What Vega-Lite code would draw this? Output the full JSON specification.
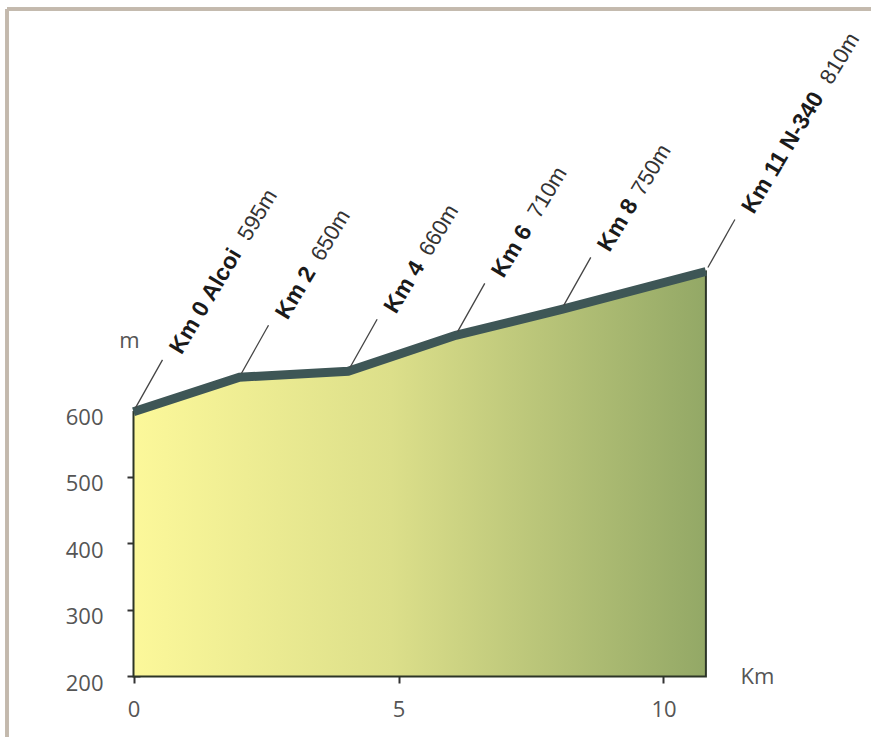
{
  "$schema": "https://vega.github.io/schema/vega-lite/v6.json",
  "width": 864,
  "height": 728,
  "autosize": {"type": "none"},
  "padding": {"left": 7, "top": 9, "right": 0, "bottom": 0},
  "background": "white",
  "config": {"view": {"stroke": null}},
  "data": {
    "values": [
      {"km": 0, "elev": 598, "name": "Km 0 Alcoi", "alt": "595m"},
      {"km": 2, "elev": 650, "name": "Km 2", "alt": "650m"},
      {"km": 4.05, "elev": 659, "name": "Km 4", "alt": "660m"},
      {"km": 6.08, "elev": 713, "name": "Km 6", "alt": "710m"},
      {"km": 8.08, "elev": 752, "name": "Km 8", "alt": "750m"},
      {"km": 10.8, "elev": 809, "name": "Km 11 N-340", "alt": "810m"}
    ]
  },
  "encoding": {
    "x": {
      "field": "km",
      "type": "quantitative",
      "scale": {"domain": [-2.3868, 13.9151], "nice": false, "zero": false},
      "axis": {
        "values": [0, 5, 10],
        "domain": false,
        "grid": false,
        "offset": -68,
        "tickSize": 14,
        "tickColor": "#333333",
        "tickWidth": 2,
        "labelPadding": 16,
        "labelFont": "Open Sans",
        "labelFontSize": 22,
        "labelColor": "#555555",
        "labelFlush": false,
        "labelOverlap": false,
        "title": "Km",
        "titleX": 750,
        "titleY": 7,
        "titleAngle": 0,
        "titleAlign": "center",
        "titleBaseline": "middle",
        "titleFont": "Open Sans",
        "titleFontSize": 22,
        "titleFontWeight": "normal",
        "titleColor": "#555555"
      }
    },
    "y": {
      "field": "elev",
      "type": "quantitative",
      "scale": {"domain": [109.02, 1203.76], "nice": false, "zero": false},
      "axis": {
        "values": [200, 300, 400, 500, 600],
        "domain": false,
        "grid": false,
        "offset": -133,
        "tickSize": 13,
        "tickColor": "#333333",
        "tickWidth": 2,
        "tickOpacity": {"condition": {"test": "datum.value == 600", "value": 0}, "value": 1},
        "labelPadding": 24,
        "labelOffset": 7,
        "labelFont": "Open Sans",
        "labelFontSize": 22,
        "labelColor": "#555555",
        "labelFlush": false,
        "labelOverlap": false,
        "title": "m",
        "titleX": -11,
        "titleY": 331,
        "titleAngle": 0,
        "titleAlign": "center",
        "titleBaseline": "middle",
        "titleFont": "Open Sans",
        "titleFontSize": 22,
        "titleFontWeight": "normal",
        "titleColor": "#555555"
      }
    }
  },
  "layer": [
    {
      "mark": {"type": "rule", "stroke": "#c4b9ad", "strokeWidth": 3},
      "encoding": {"x": {"datum": -2.3868}, "y": null}
    },
    {
      "mark": {"type": "rule", "stroke": "#c4b9ad", "strokeWidth": 3},
      "encoding": {"y": {"datum": 1203.76}, "x": null}
    },
    {
      "mark": {
        "type": "area",
        "fill": {
          "gradient": "linear",
          "x1": 0, "y1": 0, "x2": 1, "y2": 0,
          "stops": [
            {"offset": 0, "color": "#fcf89a"},
            {"offset": 0.45, "color": "#dcdf8a"},
            {"offset": 1, "color": "#93a866"}
          ]
        },
        "stroke": "#2c3527",
        "strokeWidth": 2
      },
      "encoding": {"y2": {"datum": 200}}
    },
    {
      "mark": {"type": "line", "stroke": "#3e5656", "strokeWidth": 9, "strokeCap": "butt", "strokeJoin": "miter"},
      "encoding": {}
    },
    {
      "mark": {"type": "rule", "stroke": "#444444", "strokeWidth": 1.3, "xOffset": 2, "yOffset": -4, "x2Offset": 29, "y2Offset": -52},
      "encoding": {
        "x2": {"field": "km"},
        "y2": {"field": "elev"}
      }
    },
    {
      "mark": {"type": "text", "angle": -59, "align": "left", "baseline": "middle", "dx": 73, "dy": 5, "font": "Liberation Sans", "fontWeight": "bold", "fontSize": 23, "fill": "#1a1a1a"},
      "encoding": {"text": {"field": "name"}}
    },
    {
      "mark": {"type": "text", "angle": -59, "align": "left", "baseline": "middle", "dx": {"expr": "{'595m':205,'650m':141,'660m':140,'710m':142,'750m':138,'810m':224}[datum.alt]"}, "dy": 5, "font": "Liberation Sans", "fontWeight": "normal", "fontSize": 22, "fill": "#333333"},
      "encoding": {"text": {"field": "alt"}}
    }
  ]
}
